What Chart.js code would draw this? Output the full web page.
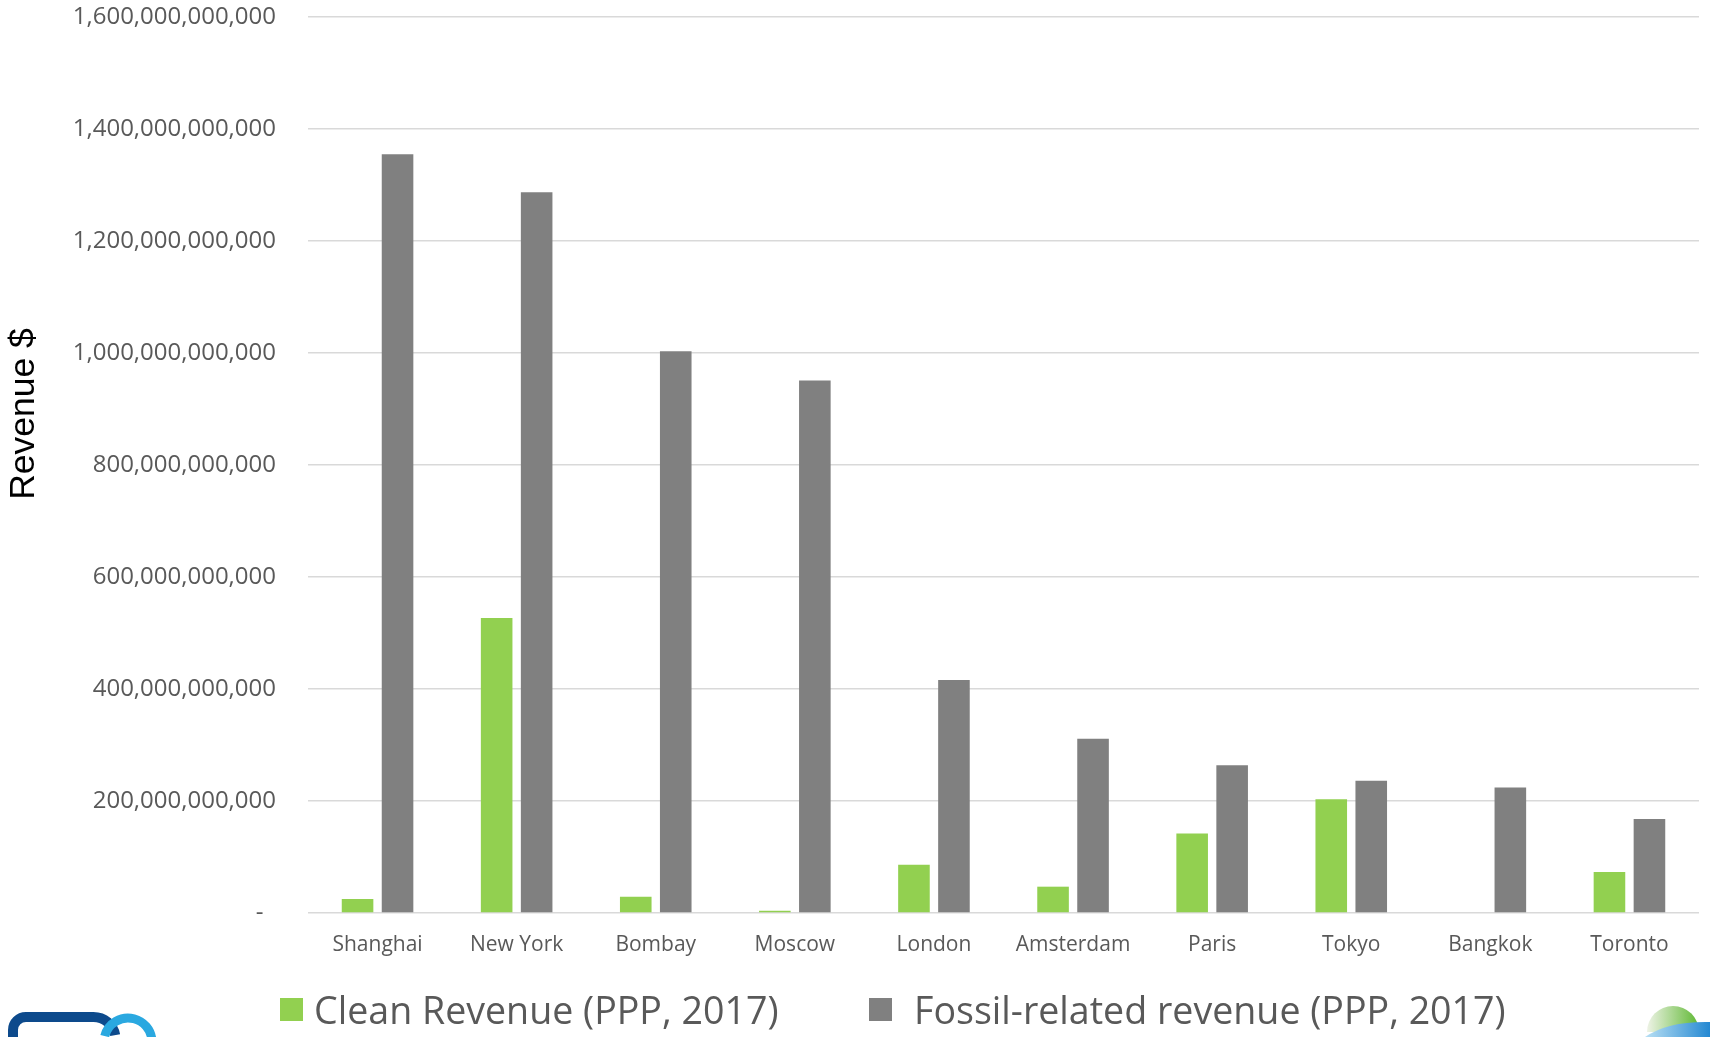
<!DOCTYPE html>
<html>
<head>
<meta charset="utf-8">
<script src="https://cdn.jsdelivr.net/npm/chart.js@4.4.1/dist/chart.umd.min.js"></script>
<style>
    body { margin: 0; background: #fff; }
    #wrap { position: relative; width: 1710px; height: 1037px; overflow: hidden; }
    #leyenda { position: absolute; left: 0; top: 0; width: 1710px; height: 1037px; pointer-events: none; }
    .item { position: absolute; top: 986px; height: 46px; display: flex; align-items: center;
            font-family: "Open Sans", sans-serif; font-size: 37.6px; color: #595959; white-space: nowrap; }
    .caja { width: 23px; height: 23px; margin-right: 11px; }
</style>
</head>
<body>
<div id="wrap">
    <canvas id="grafica" width="1710" height="1037"></canvas>
    <div id="leyenda"></div>
</div>
<script>
// ciudades y valores (dolares, PPP 2017)
const ciudades = ['Shanghai', 'New York', 'Bombay', 'Moscow', 'London', 'Amsterdam', 'Paris', 'Tokyo', 'Bangkok', 'Toronto'];
const valores_limpio = [25e9, 527e9, 29e9, 4e9, 86e9, 47e9, 142e9, 203e9, 0, 73e9];
const valores_fosil = [1355e9, 1287e9, 1003e9, 951e9, 416e9, 311e9, 264e9, 236e9, 224e9, 168e9];
const nombre_limpio = 'Clean Revenue (PPP, 2017)';
const nombre_fosil = 'Fossil-related revenue (PPP, 2017)';
const eje_max = 1600e9;
const eje_paso = 200e9;

const ctx = document.getElementById('grafica').getContext('2d');

// titulo vertical del eje y
const tituloEje = {
    id: 'tituloEje',
    afterDraw(chart) {
        const c = chart.ctx;
        c.save();
        c.translate(24, 414);
        c.rotate(-Math.PI / 2);
        c.font = '35.5px "Liberation Sans", Arial, sans-serif';
        c.fillStyle = '#000';
        c.textAlign = 'center';
        c.textBaseline = 'middle';
        c.fillText('Revenue $', 0, 0);
        c.restore();
    }
};

// logos de las esquinas
const logos = {
    id: 'logos',
    afterDraw(chart) {
        const c = chart.ctx;
        c.save();
        c.lineWidth = 10;
        c.strokeStyle = '#0d4a8c';
        c.beginPath();
        c.moveTo(13, 1040);
        c.lineTo(13, 1030);
        c.arcTo(13, 1017, 28, 1017, 13);
        c.lineTo(92, 1017);
        c.arcTo(112, 1017, 116, 1040, 22);
        c.stroke();
        c.strokeStyle = '#2aa8e0';
        c.lineWidth = 9;
        c.beginPath();
        c.arc(128, 1042, 24, Math.PI * 1.08, Math.PI * 1.97);
        c.stroke();

        const g = c.createLinearGradient(1647, 0, 1699, 0);
        g.addColorStop(0, '#eef3e6');
        g.addColorStop(1, '#5fb833');
        c.fillStyle = g;
        c.beginPath();
        c.arc(1673, 1032, 26, Math.PI, 0);
        c.fill();
        const b = c.createLinearGradient(1645, 0, 1710, 0);
        b.addColorStop(0, '#b9e0f4');
        b.addColorStop(1, '#2488d2');
        c.fillStyle = b;
        c.beginPath();
        c.moveTo(1645, 1037);
        c.quadraticCurveTo(1668, 1021, 1710, 1022);
        c.lineTo(1710, 1037);
        c.closePath();
        c.fill();
        c.restore();
    }
};

const ch = new Chart(ctx, {
    type: 'bar',
    data: {
        labels: ciudades,
        datasets: [{
            label: nombre_limpio,
            data: valores_limpio,
            backgroundColor: '#92d050'
        }, {
            label: nombre_fosil,
            data: valores_fosil,
            backgroundColor: '#808080'
        }]
    },
    options: {
        responsive: false,
        animation: false,
        categoryPercentage: 0.575,
        barPercentage: 0.79,
        layout: {
            autoPadding: false,
            padding: { top: 17, right: 11, bottom: 55, left: 0 }
        },
        plugins: {
            legend: { display: false },
            tooltip: { enabled: false }
        },
        scales: {
            x: {
                grid: { display: false, drawTicks: false },
                border: { display: false },
                ticks: {
                    padding: 19,
                    color: '#595959',
                    font: { family: '"Open Sans", sans-serif', size: 21 }
                },
                afterFit(scale) { scale.height = 69; }
            },
            y: {
                min: 0,
                max: eje_max,
                grid: { color: '#d9d9d9', lineWidth: 1.5, drawTicks: false },
                border: { display: false },
                ticks: {
                    stepSize: eje_paso,
                    padding: 32,
                    color: '#595959',
                    font: { family: '"Open Sans", sans-serif', size: 24 },
                    callback: function(value) {
                        if (value === 0) return '-  ';
                        return Number(value).toLocaleString('en-US');
                    }
                },
                afterFit(scale) {
                    // ancho fijo y sin relleno extra arriba/abajo
                    scale.width = 308;
                    scale.paddingTop = 0;
                    scale.paddingBottom = 0;
                }
            }
        }
    },
    plugins: [tituloEje, logos]
});

// leyenda en html
const leyenda = document.getElementById('leyenda');
const posiciones = [280, 869];
const separacion = [11, 22];
ch.data.datasets.forEach(function(ds, i) {
    const item = document.createElement('div');
    item.className = 'item';
    item.style.left = posiciones[i] + 'px';
    const caja = document.createElement('span');
    caja.className = 'caja';
    caja.style.background = ds.backgroundColor;
    caja.style.marginRight = separacion[i] + 'px';
    item.appendChild(caja);
    item.appendChild(document.createTextNode(ds.label));
    leyenda.appendChild(item);
});
</script>
</body>
</html>
